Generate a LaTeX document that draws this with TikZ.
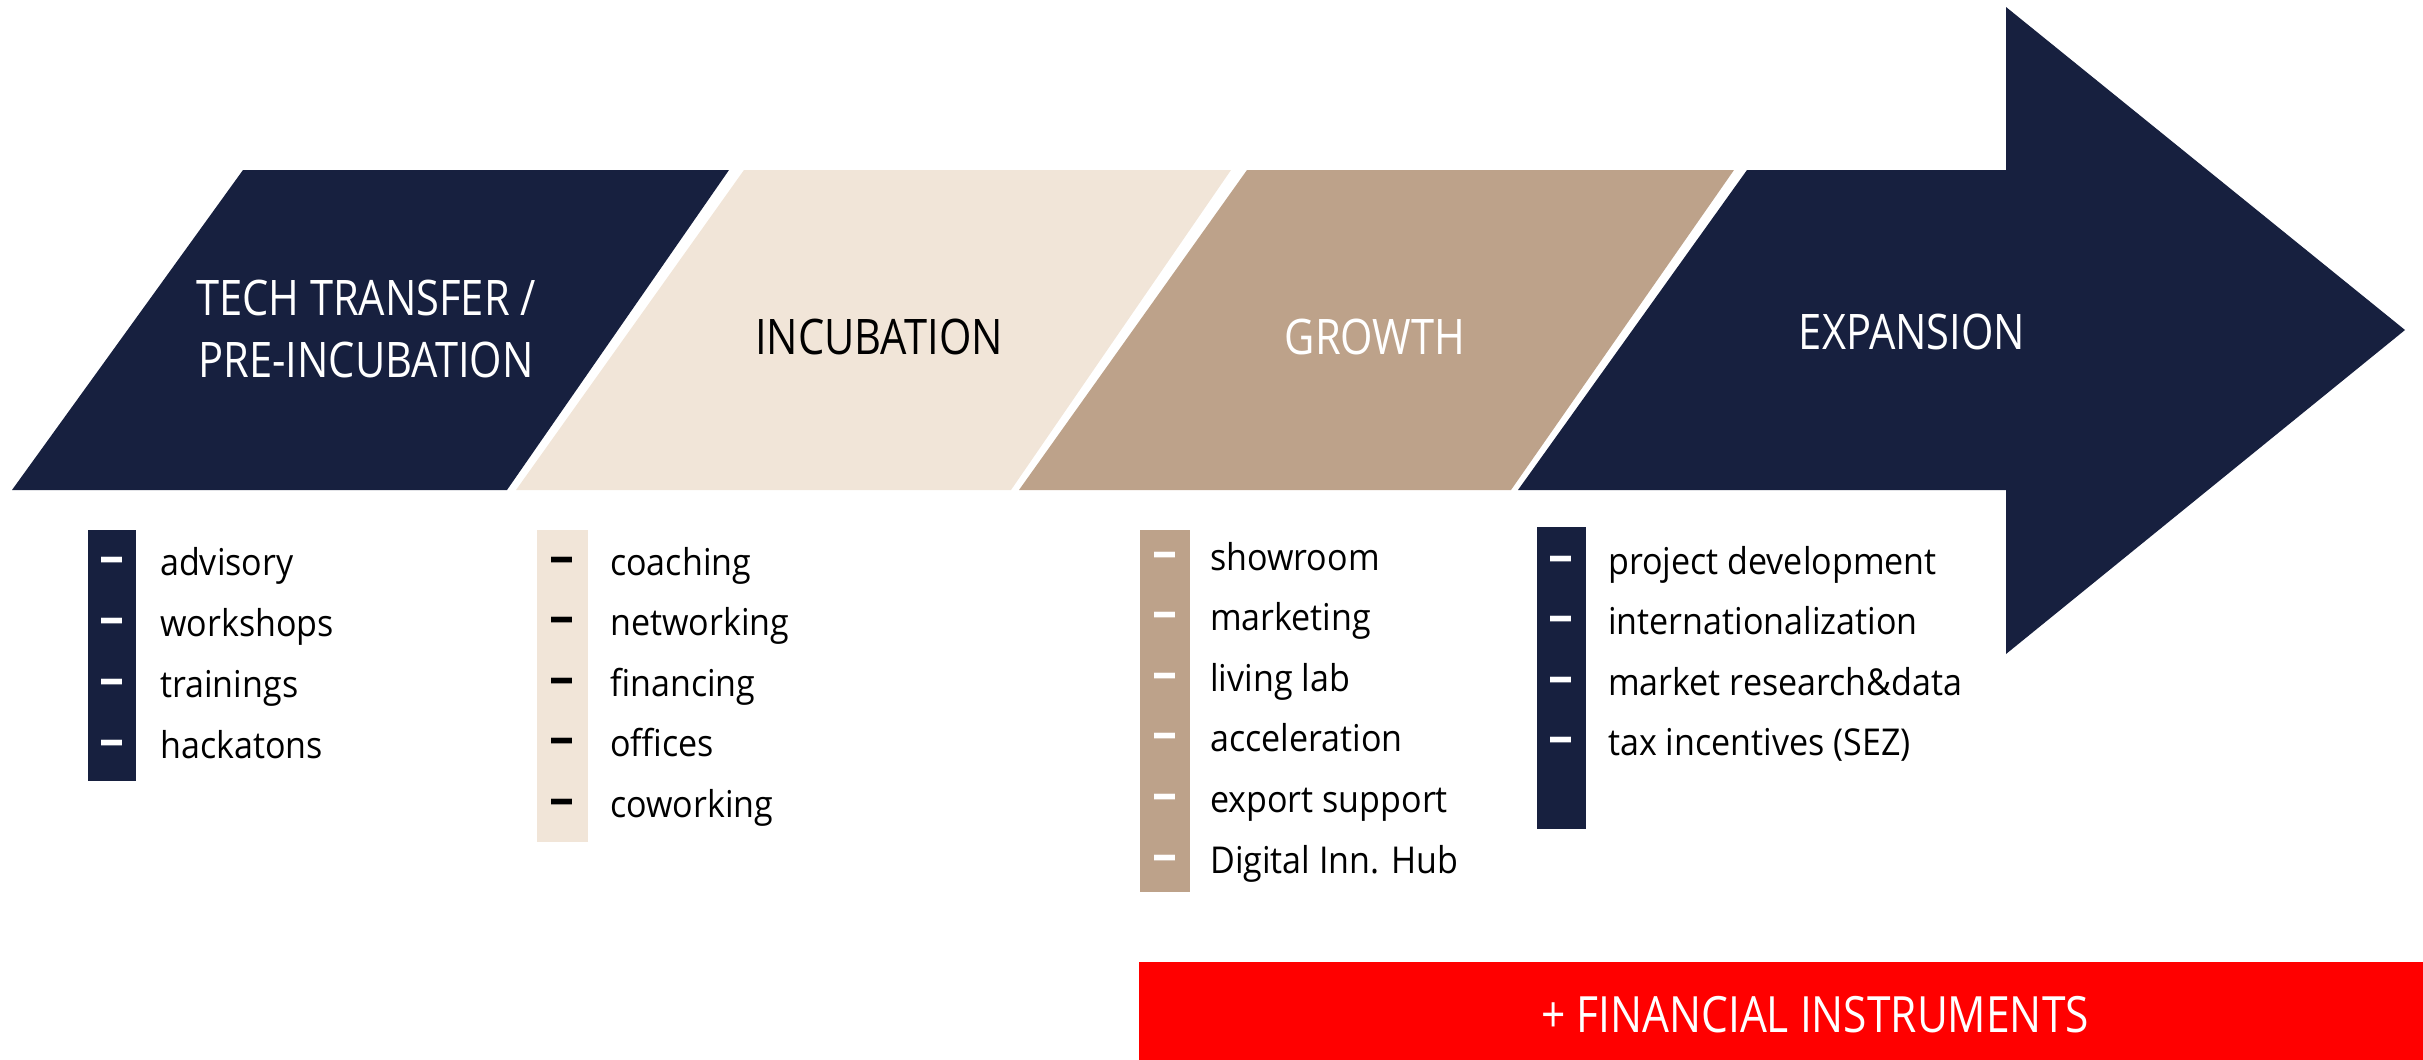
\documentclass[tikz,border=0pt]{standalone}
\usepackage{fontspec}
\setmainfont{Open Sans}[FakeStretch=0.85]
\newfontfamily\listfont{Open Sans}[FakeStretch=0.92]
\newfontfamily\dashfont{Open Sans}
\definecolor{navy}{HTML}{17203F}
\definecolor{beige}{HTML}{F1E5D8}
\definecolor{tanc}{HTML}{BDA28A}
\definecolor{redbar}{HTML}{FF0000}
\tikzset{
  hdr/.style={inner sep=0pt, anchor=base, font=\fontsize{49}{62}\selectfont, align=center},
  item/.style={inner sep=0pt, anchor=base west, font=\listfont\fontsize{37}{44}\selectfont, text=black},
  dashmark/.style={inner sep=0pt, anchor=base, font=\dashfont\bfseries\fontsize{50}{54}\selectfont},
  bar/.style={draw=none}
}
\begin{document}
\begin{tikzpicture}[x=1pt,y=-1pt]
\useasboundingbox (0,0) rectangle (2423,1060);
% stage shapes
\fill[navy] (243,170) -- (729,170) -- (507,490) -- (12,490) -- cycle;
\fill[beige] (744,170) -- (1231,170) -- (1011,490) -- (516,490) -- cycle;
\fill[tanc] (1247,170) -- (1734,170) -- (1511,490) -- (1019,490) -- cycle;
\fill[navy] (1747,170) -- (2006,170) -- (2006,7) -- (2405,330) -- (2006,654) -- (2006,490) -- (1518,490) -- cycle;
% stage titles
\node[hdr, text=white] (tt) at (366,377) {TECH TRANSFER /\\PRE-INCUBATION};
\node[hdr, text=black] (inc) at (879,354) {INCUBATION};
\node[hdr, text=white] (gro) at (1375,354) {GROWTH};
\node[hdr, text=white] (exp) at (1912,349) {EXPANSION};
% bars
\fill[navy] (88,530) rectangle (136,781);
\fill[beige] (537,530) rectangle (588,842);
\fill[tanc] (1140,530) rectangle (1190,892);
\fill[navy] (1537,527) rectangle (1586,829);
% list 1
\foreach \t [count=\i] in {advisory,workshops,trainings,hackatons}{
  \node[dashmark, text=white] (da\i) at (112,{565+61*(\i-1)+8}) {–};
  \node[item] (ia\i) at (160,{565+61*(\i-1)+10}) {\t};
}
% list 2
\foreach \t [count=\i] in {coaching,networking,financing,offices,coworking}{
  \node[dashmark, text=black] (db\i) at (562,{565+60.5*(\i-1)+8}) {–};
  \node[item] (ib\i) at (610,{565+60.5*(\i-1)+10}) {\t};
}
% list 3
\foreach \t [count=\i] in {showroom,marketing,living lab,acceleration,export support,Digital Inn. Hub}{
  \node[dashmark, text=white] (dc\i) at (1165,{560+60.6*(\i-1)+8}) {–};
  \node[item] (ic\i) at (1210,{560+60.6*(\i-1)+10}) {\t};
}
% list 4
\foreach \t [count=\i] in {project development,internationalization,market research\&data,tax incentives (SEZ)}{
  \node[dashmark, text=white] (dd\i) at (1561,{564+60.5*(\i-1)+8}) {–};
  \node[item] (id\i) at (1608,{564+60.5*(\i-1)+10}) {\t};
}
% financial instruments
\fill[redbar] (1139,962) rectangle (2423,1060);
\node[hdr, text=white, font=\fontsize{50}{56}\selectfont] (fin) at (1815,1032) {+ FINANCIAL INSTRUMENTS};
\end{tikzpicture}
\end{document}
